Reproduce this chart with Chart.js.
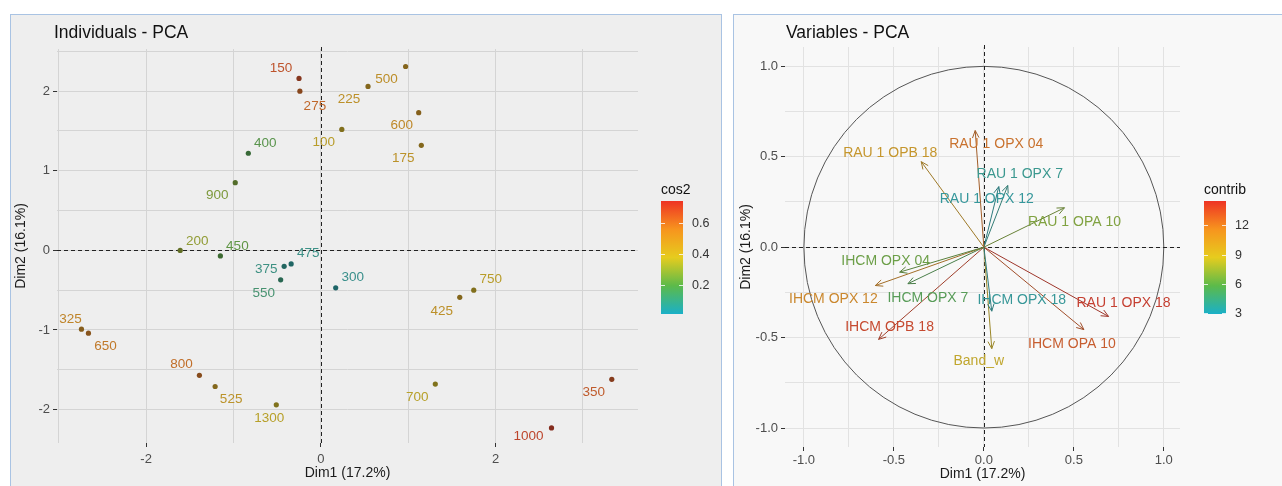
<!DOCTYPE html>
<html>
<head>
<meta charset="utf-8">
<script src="https://cdn.jsdelivr.net/npm/chart.js@4.4.0/dist/chart.umd.min.js"></script>
<style>
  body { margin: 0; background: #fff; width: 1282px; height: 486px; overflow: hidden; }
  .panel { position: absolute; top: 14px; border: 1px solid #a9c3e3; overflow: hidden; height: 480px; }
  #leftPanel { left: 10px; width: 710px; background: #eeeeee; }
  #rightPanel { left: 733px; width: 548px; background: #f8f8f8; }
  canvas { display: block; }
</style>
</head>
<body>
<div class="panel" id="leftPanel"><canvas id="indChart" width="710" height="471"></canvas></div>
<div class="panel" id="rightPanel"><canvas id="varChart" width="548" height="471"></canvas></div>
<script>
// individuals (Dim1, Dim2, cos2)
const indNames = ['150','275','100','225','500','600','175','400','900','200','450','475','375','550','300','325','650','800','525','1300','750','425','700','1000','350'];
const indDim1 = [-0.25,-0.24,0.24,0.54,0.97,1.12,1.15,-0.83,-0.98,-1.61,-1.15,-0.34,-0.42,-0.46,0.17,-2.74,-2.66,-1.39,-1.21,-0.51,1.75,1.59,1.31,2.64,3.33];
const indDim2 = [2.16,2.0,1.52,2.06,2.31,1.73,1.32,1.22,0.85,0.0,-0.07,-0.17,-0.2,-0.37,-0.47,-0.99,-1.04,-1.57,-1.71,-1.94,-0.5,-0.59,-1.68,-2.23,-1.62];
const indCos2 = [0.68,0.62,0.4,0.46,0.47,0.5,0.45,0.18,0.26,0.3,0.2,0.05,0.06,0.1,0.04,0.52,0.57,0.6,0.45,0.38,0.4,0.46,0.38,0.72,0.66];
const cos2Ticks = [0.2, 0.4, 0.6];

// variables (Dim1, Dim2, contrib)
const varNames = ['RAU 1 OPX 04','RAU 1 OPB 18','RAU 1 OPX 7','RAU 1 OPX 12','RAU 1 OPA 10','IHCM OPX 04','IHCM OPX 12','IHCM OPX 7','IHCM OPB 18','IHCM OPX 18','Band_w','RAU 1 OPX 18','IHCM OPA 10'];
const varDim1 = [-0.048,-0.348,0.133,0.083,0.448,-0.468,-0.603,-0.422,-0.585,0.044,0.044,0.693,0.556];
const varDim2 = [0.645,0.473,0.341,0.335,0.218,-0.138,-0.212,-0.202,-0.51,-0.354,-0.561,-0.383,-0.456];
const varContrib = [12.3,10.2,3.6,3.2,6.8,6.2,11.3,5.4,14.0,3.3,9.0,14.5,13.2];
const contribTicks = [3, 6, 9, 12];

// label nudges in pixels (repelled text positions)
const indNudge = [[-18,-10],[15,15],[-18,13],[-19,13],[-19,13],[-17,13],[-18,13],[17,-10],[-18,13],[17,-9],[17,-10],[17,-11],[-18,3],[-17,13],[17,-11],[-11,-10],[17,13],[-18,-11],[16,13],[-7,13],[17,-11],[-18,14],[-18,13],[-23,8],[-18,13]];
const varNudge = [[21,14],[-31,-9],[12,-11],[-12,13],[10,14],[-14,-11],[-42,14],[20,14],[11,-12],[30,-11],[-13,13],[15,-13],[-12,15]];

const FONT = '"Liberation Sans", Arial, sans-serif';
Chart.defaults.font.family = FONT;

const gradStops = [[0,[26,176,200]],[0.25,[92,186,74]],[0.5,[230,204,30]],[0.75,[247,148,30]],[1,[238,51,36]]];
function gradRGB(t) {
  t = Math.max(0, Math.min(1, t));
  for (let i = 1; i < gradStops.length; i++) {
    if (t <= gradStops[i][0]) {
      const [t0, c0] = gradStops[i - 1], [t1, c1] = gradStops[i];
      const u = (t - t0) / (t1 - t0);
      return c0.map((v, k) => v + (c1[k] - v) * u);
    }
  }
  return gradStops[gradStops.length - 1][1];
}
function mix(rgb, other, f) {
  return 'rgb(' + rgb.map((v, k) => Math.round(v + (other[k] - v) * f)).join(',') + ')';
}

const cos2Range = [0.013, 0.742];
const contribRange = [2.9, 14.5];
const indT = indCos2.map(v => (v - cos2Range[0]) / (cos2Range[1] - cos2Range[0]));
const varT = varContrib.map(v => (v - contribRange[0]) / (contribRange[1] - contribRange[0]));

function isMult(v, m) { return Math.abs(v / m - Math.round(v / m)) < 1e-6; }

function axis(min, max, step, major, fmt, title, titlePad, tickPad, gridColor) {
  return {
    type: 'linear', min: min, max: max,
    border: { display: false },
    grid: {
      color: gridColor, lineWidth: 1, tickLength: 4,
      tickColor: c => major(c.tick.value) ? '#333' : 'rgba(0,0,0,0)'
    },
    ticks: {
      stepSize: step, includeBounds: false, padding: tickPad,
      color: '#4d4d4d', font: { size: 13 },
      callback: v => major(v) ? fmt(v) : ''
    },
    title: { display: true, text: title, color: '#1a1a1a', font: { size: 14 }, padding: titlePad }
  };
}

function decor(cfg) {
  return {
    id: 'decor_' + cfg.name,
    beforeDatasetsDraw(chart) {
      const { ctx, chartArea: a, scales: { x, y } } = chart;
      ctx.save();
      if (cfg.circle) {
        const cx = x.getPixelForValue(0), cy = y.getPixelForValue(0);
        ctx.strokeStyle = '#555';
        ctx.lineWidth = 1;
        ctx.beginPath();
        ctx.ellipse(cx, cy, x.getPixelForValue(1) - cx, cy - y.getPixelForValue(1), 0, 0, Math.PI * 2);
        ctx.stroke();
      }
      ctx.setLineDash([4, 3]);
      ctx.strokeStyle = '#222';
      ctx.lineWidth = 1;
      const x0 = Math.round(x.getPixelForValue(0)) + 0.5;
      const y0 = Math.round(y.getPixelForValue(0)) + 0.5;
      ctx.beginPath();
      ctx.moveTo(x0, a.top - 2); ctx.lineTo(x0, a.bottom);
      ctx.moveTo(a.left, y0); ctx.lineTo(a.right, y0);
      ctx.stroke();
      ctx.restore();
    },
    afterDatasetsDraw(chart) {
      const ctx = chart.ctx;
      ctx.save();
      if (cfg.arrows) {
        for (let i = 0; i < cfg.names.length; i++) {
          const pts = chart.getDatasetMeta(i).data;
          const p0 = pts[0], p1 = pts[1];
          const ang = Math.atan2(p1.y - p0.y, p1.x - p0.x);
          ctx.strokeStyle = cfg.arrowColors[i];
          ctx.lineWidth = 1;
          ctx.beginPath();
          ctx.moveTo(p1.x - 8 * Math.cos(ang - 0.42), p1.y - 8 * Math.sin(ang - 0.42));
          ctx.lineTo(p1.x, p1.y);
          ctx.lineTo(p1.x - 8 * Math.cos(ang + 0.42), p1.y - 8 * Math.sin(ang + 0.42));
          ctx.stroke();
        }
      }
      const meta = chart.getDatasetMeta(cfg.labelDataset);
      ctx.font = cfg.labelSize + 'px ' + FONT;
      ctx.textAlign = 'center';
      ctx.textBaseline = 'middle';
      for (let i = 0; i < cfg.names.length; i++) {
        const p = cfg.arrows ? chart.getDatasetMeta(i).data[1] : meta.data[i];
        ctx.fillStyle = cfg.labelColors[i];
        ctx.fillText(cfg.names[i], p.x + cfg.nudge[i][0], p.y + cfg.nudge[i][1]);
      }
      ctx.restore();
    },
    afterDraw(chart) {
      const { ctx, chartArea: a } = chart;
      ctx.save();
      ctx.fillStyle = '#111';
      ctx.font = '17.5px ' + FONT;
      ctx.textBaseline = 'middle';
      ctx.textAlign = 'left';
      ctx.fillText(cfg.title, cfg.titleX, 18);
      // colour bar
      const bx = a.right + cfg.barGap, bw = 22, top = 186, bot = 299;
      const g = ctx.createLinearGradient(0, bot, 0, top);
      gradStops.forEach(s => g.addColorStop(s[0], 'rgb(' + s[1].join(',') + ')'));
      ctx.fillStyle = g;
      ctx.fillRect(bx, top, bw, bot - top);
      ctx.fillStyle = '#111';
      ctx.font = '14px ' + FONT;
      ctx.textBaseline = 'alphabetic';
      ctx.fillText(cfg.legendTitle, bx, 179);
      ctx.font = '12.5px ' + FONT;
      ctx.textBaseline = 'middle';
      ctx.fillStyle = '#333';
      cfg.legendTicks.forEach(v => {
        const ty = Math.round(bot - (v - cfg.range[0]) / (cfg.range[1] - cfg.range[0]) * (bot - top)) + 0.5;
        ctx.strokeStyle = 'rgba(255,255,255,0.8)';
        ctx.beginPath();
        ctx.moveTo(bx, ty); ctx.lineTo(bx + 4, ty);
        ctx.moveTo(bx + bw - 4, ty); ctx.lineTo(bx + bw, ty);
        ctx.stroke();
        ctx.fillText(cfg.legendFmt(v), bx + bw + 9, ty);
      });
      ctx.restore();
    }
  };
}

// Individuals chart
const indPts = indDim1.map((v, i) => ({ x: v, y: indDim2[i] }));
new Chart(document.getElementById('indChart'), {
  type: 'scatter',
  data: {
    datasets: [{
      data: indPts,
      pointRadius: 2.6,
      pointBorderWidth: 0,
      pointBackgroundColor: indT.map(t => mix(gradRGB(t), [25, 25, 25], 0.5))
    }]
  },
  options: {
    responsive: false, animation: false, devicePixelRatio: 1,
    layout: { padding: { left: 0, top: 34, right: 83, bottom: 0 } },
    plugins: { legend: { display: false }, tooltip: { enabled: false } },
    scales: {
      x: Object.assign(axis(-3.02, 3.63, 1, v => isMult(v, 2), v => String(v), 'Dim1 (17.2%)', { top: 4, bottom: 4 }, 5, '#d4d4d4'),
        { afterFit: s => { s.height = 43; } }),
      y: Object.assign(axis(-2.42, 2.53, 0.5, v => isMult(v, 1), v => String(v), 'Dim2 (16.1%)', { top: 2, bottom: 2 }, 3, '#d4d4d4'),
        { afterFit: s => { s.width = 46; } })
    }
  },
  plugins: [decor({
    name: 'ind', title: 'Individuals - PCA', titleX: 43,
    names: indNames, nudge: indNudge, labelDataset: 0, labelSize: 13.5,
    labelColors: indT.map(t => mix(gradRGB(t), [95, 80, 60], 0.35)),
    barGap: 23, legendTitle: 'cos2', legendTicks: cos2Ticks, range: cos2Range, legendFmt: v => v.toFixed(1)
  })]
});

// Variables chart
const varColors = varT.map(t => gradRGB(t));
new Chart(document.getElementById('varChart'), {
  type: 'scatter',
  data: {
    datasets: varNames.map((n, i) => ({
      data: [{ x: 0, y: 0 }, { x: varDim1[i], y: varDim2[i] }],
      showLine: true,
      borderWidth: 1,
      borderColor: mix(varColors[i], [60, 55, 50], 0.45),
      pointRadius: 0
    }))
  },
  options: {
    responsive: false, animation: false, devicePixelRatio: 1,
    layout: { padding: { left: 0, top: 32, right: 102, bottom: 0 } },
    plugins: { legend: { display: false }, tooltip: { enabled: false } },
    scales: {
      x: Object.assign(axis(-1.105, 1.09, 0.25, v => isMult(v, 0.5), v => v.toFixed(1), 'Dim1 (17.2%)', { top: 3, bottom: 3 }, 2, '#e2e2e2'),
        { afterFit: s => { s.height = 39; } }),
      y: Object.assign(axis(-1.105, 1.107, 0.25, v => isMult(v, 0.5), v => v.toFixed(1), 'Dim2 (16.1%)', { top: 4, bottom: 4 }, 3, '#e2e2e2'),
        { afterFit: s => { s.width = 51; } })
    }
  },
  plugins: [decor({
    name: 'var', title: 'Variables - PCA', titleX: 52, circle: true, arrows: true,
    names: varNames, nudge: varNudge, labelDataset: 0, labelSize: 14,
    arrowColors: varColors.map(c => mix(c, [60, 55, 50], 0.45)),
    labelColors: varColors.map(c => mix(c, [100, 90, 80], 0.3)),
    barGap: 24, legendTitle: 'contrib', legendTicks: contribTicks, range: contribRange, legendFmt: v => String(v)
  })]
});
</script>
</body>
</html>
